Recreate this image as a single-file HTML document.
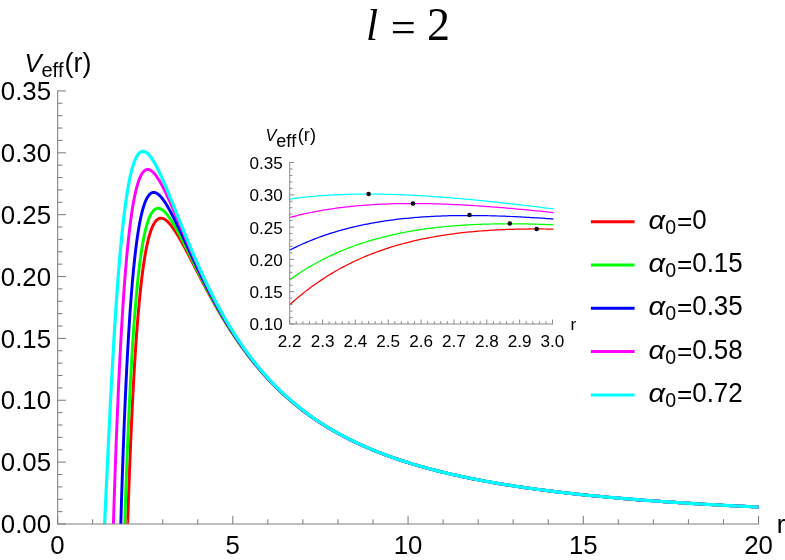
<!DOCTYPE html>
<html><head><meta charset="utf-8"><title>l = 2</title>
<style>html,body{margin:0;padding:0;background:#fff}body{width:785px;height:560px;overflow:hidden;font-family:"Liberation Sans",sans-serif}svg{display:block;will-change:transform}text{font-kerning:none;font-variant-ligatures:none}</style></head>
<body>
<svg width="785" height="560" viewBox="0 0 785 560">
<rect width="785" height="560" fill="#fff"/>
<defs><clipPath id="cm"><rect x="57.55" y="80" width="704.0" height="444.0"/></clipPath><clipPath id="ci"><rect x="289.7" y="150" width="264.8" height="174.0"/></clipPath></defs>
<g fill="none" stroke-linejoin="round" clip-path="url(#cm)">
<path d="M127.36,533.16 L127.53,527.64 L127.71,522.20 L127.88,516.84 L128.06,511.57 L128.24,506.38 L128.41,501.28 L128.59,496.25 L128.76,491.30 L128.94,486.43 L129.11,481.63 L129.29,476.91 L129.46,472.27 L129.64,467.69 L129.82,463.19 L129.99,458.76 L130.17,454.40 L130.34,450.10 L130.52,445.88 L130.69,441.72 L130.87,437.62 L131.05,433.59 L131.22,429.63 L131.40,425.72 L131.57,421.88 L131.75,418.10 L131.92,414.37 L132.10,410.71 L132.27,407.10 L132.45,403.55 L132.63,400.06 L132.80,396.62 L132.98,393.24 L133.15,389.91 L133.33,386.63 L133.50,383.41 L133.68,380.23 L133.86,377.11 L134.03,374.03 L134.21,371.01 L134.38,368.03 L134.56,365.11 L134.73,362.22 L134.91,359.39 L135.08,356.60 L135.26,353.85 L135.44,351.15 L135.61,348.50 L135.79,345.88 L135.96,343.31 L136.14,340.78 L136.31,338.29 L136.49,335.84 L136.66,333.43 L136.84,331.07 L137.02,328.73 L137.19,326.44 L137.37,324.19 L137.54,321.97 L137.72,319.79 L137.89,317.64 L138.07,315.53 L138.25,313.46 L138.42,311.42 L138.60,309.41 L138.77,307.44 L138.95,305.50 L139.12,303.60 L139.30,301.72 L139.47,299.88 L139.65,298.07 L139.83,296.29 L140.00,294.54 L140.18,292.81 L140.35,291.12 L140.53,289.46 L140.70,287.83 L140.88,286.22 L141.06,284.64 L141.23,283.09 L141.41,281.57 L141.58,280.07 L141.76,278.60 L141.93,277.16 L142.11,275.74 L142.28,274.35 L142.46,272.98 L142.64,271.64 L142.81,270.32 L142.99,269.02 L143.16,267.75 L143.34,266.50 L143.51,265.27 L143.69,264.07 L143.87,262.89 L144.04,261.73 L144.22,260.59 L144.39,259.47 L144.57,258.37 L144.74,257.30 L144.92,256.24 L145.09,255.21 L145.27,254.19 L145.45,253.20 L145.62,252.22 L145.80,251.27 L145.97,250.33 L146.15,249.41 L146.32,248.51 L146.50,247.62 L146.68,246.76 L146.85,245.91 L147.03,245.08 L147.20,244.26 L147.38,243.47 L147.55,242.69 L147.73,241.92 L147.90,241.17 L148.08,240.44 L148.26,239.72 L148.43,239.02 L148.61,238.34 L148.78,237.67 L148.96,237.01 L149.13,236.37 L149.31,235.74 L149.48,235.13 L149.66,234.53 L149.84,233.95 L150.01,233.37 L150.19,232.82 L150.36,232.27 L150.54,231.74 L150.71,231.22 L150.89,230.72 L151.07,230.22 L151.24,229.74 L151.42,229.27 L151.59,228.82 L151.77,228.37 L151.94,227.94 L152.12,227.52 L152.29,227.11 L152.47,226.71 L152.65,226.32 L152.82,225.95 L153.00,225.58 L153.17,225.22 L153.35,224.88 L153.52,224.55 L153.70,224.22 L153.88,223.91 L154.05,223.60 L154.23,223.31 L154.40,223.02 L154.58,222.75 L154.75,222.48 L154.93,222.23 L155.10,221.98 L155.28,221.74 L155.46,221.51 L155.63,221.29 L155.81,221.08 L155.98,220.88 L156.16,220.68 L156.33,220.50 L156.51,220.32 L156.69,220.15 L156.86,219.99 L157.04,219.83 L157.21,219.68 L157.39,219.54 L157.56,219.41 L157.74,219.29 L157.91,219.17 L158.09,219.06 L158.27,218.96 L158.44,218.87 L158.62,218.78 L158.79,218.70 L158.97,218.62 L159.14,218.55 L159.32,218.49 L159.50,218.44 L159.67,218.39 L159.85,218.35 L160.02,218.31 L160.20,218.28 L160.37,218.26 L160.55,218.24 L160.72,218.23 L160.90,218.22 L161.08,218.22 L161.25,218.22 L161.43,218.23 L161.60,218.25 L161.78,218.27 L161.95,218.30 L162.13,218.33 L162.30,218.37 L162.48,218.41 L162.66,218.46 L162.83,218.51 L163.01,218.57 L163.18,218.63 L163.36,218.69 L163.53,218.77 L163.71,218.84 L163.89,218.92 L164.06,219.01 L164.24,219.10 L164.41,219.19 L164.59,219.29 L164.76,219.39 L164.94,219.50 L165.11,219.61 L165.29,219.72 L165.47,219.84 L165.64,219.97 L165.82,220.09 L165.99,220.22 L166.17,220.36 L166.34,220.49 L166.52,220.64 L166.70,220.78 L166.87,220.93 L167.05,221.08 L167.22,221.24 L167.40,221.40 L167.57,221.56 L167.75,221.73 L167.92,221.89 L168.10,222.07 L168.28,222.24 L168.45,222.42 L168.63,222.60 L168.80,222.79 L168.98,222.98 L169.15,223.17 L169.33,223.36 L169.51,223.56 L169.68,223.76 L169.86,223.96 L170.03,224.16 L170.21,224.37 L170.38,224.58 L170.56,224.79 L170.73,225.01 L170.91,225.22 L171.09,225.44 L171.26,225.67 L171.44,225.89 L171.61,226.12 L171.79,226.35 L171.96,226.58 L172.14,226.82 L172.31,227.05 L172.49,227.29 L172.67,227.53 L172.84,227.77 L173.02,228.02 L173.19,228.27 L173.37,228.52 L173.54,228.77 L173.72,229.02 L173.90,229.28 L174.07,229.53 L174.25,229.79 L174.42,230.05 L174.60,230.31 L174.77,230.58 L174.95,230.84 L175.12,231.11 L175.30,231.38 L175.48,231.65 L175.65,231.93 L175.83,232.20 L176.00,232.48 L176.18,232.75 L176.35,233.03 L176.53,233.31 L176.71,233.59 L176.88,233.88 L177.06,234.16 L177.23,234.45 L177.41,234.74 L177.58,235.02 L177.76,235.31 L177.93,235.61 L178.11,235.90 L178.29,236.19 L178.46,236.49 L178.64,236.78 L178.81,237.08 L178.99,237.38 L179.16,237.68 L179.34,237.98 L179.52,238.28 L179.69,238.59 L179.87,238.89 L180.04,239.20 L180.22,239.50 L180.39,239.81 L180.57,240.12 L180.74,240.43 L180.92,240.74 L181.10,241.05 L181.27,241.36 L181.45,241.68 L181.62,241.99 L181.80,242.30 L181.97,242.62 L182.15,242.94 L182.33,243.25 L182.50,243.57 L182.68,243.89 L182.85,244.21 L183.03,244.53 L183.20,244.85 L183.38,245.17 L183.55,245.49 L183.73,245.82 L184.70,247.61 L185.67,249.42 L186.64,251.25 L187.61,253.09 L188.58,254.94 L189.55,256.80 L190.52,258.66 L191.49,260.54 L192.46,262.41 L193.43,264.29 L194.40,266.17 L195.37,268.05 L196.34,269.93 L197.31,271.80 L198.28,273.67 L199.25,275.54 L200.22,277.41 L201.19,279.26 L202.16,281.11 L203.13,282.96 L204.10,284.79 L205.07,286.62 L206.04,288.44 L207.01,290.25 L207.98,292.05 L208.95,293.83 L209.92,295.61 L210.89,297.38 L211.86,299.14 L212.83,300.88 L213.80,302.61 L214.77,304.33 L215.74,306.04 L216.71,307.73 L217.68,309.42 L218.65,311.08 L219.62,312.74 L220.59,314.38 L221.56,316.02 L222.53,317.63 L223.50,319.24 L224.47,320.83 L225.44,322.40 L226.41,323.97 L227.38,325.52 L228.35,327.05 L229.32,328.58 L230.29,330.09 L231.26,331.58 L232.23,333.07 L233.20,334.53 L234.17,335.99 L235.14,337.43 L236.11,338.86 L237.08,340.28 L238.05,341.68 L239.02,343.07 L239.99,344.45 L240.96,345.82 L241.93,347.17 L242.90,348.51 L243.87,349.83 L244.84,351.15 L245.81,352.45 L246.78,353.74 L247.75,355.01 L248.72,356.28 L249.69,357.53 L250.66,358.77 L251.63,360.00 L252.60,361.21 L253.57,362.42 L254.54,363.61 L255.51,364.79 L256.48,365.96 L257.45,367.12 L258.42,368.27 L259.39,369.41 L260.36,370.53 L261.32,371.65 L262.29,372.75 L263.26,373.85 L264.23,374.93 L265.20,376.00 L266.17,377.06 L267.14,378.11 L268.11,379.16 L269.08,380.19 L270.05,381.21 L271.02,382.22 L271.99,383.22 L272.96,384.22 L273.93,385.20 L274.90,386.17 L275.87,387.14 L276.84,388.09 L277.81,389.04 L278.78,389.97 L279.75,390.90 L280.72,391.82 L281.69,392.73 L282.66,393.63 L283.63,394.52 L284.60,395.41 L285.57,396.28 L286.54,397.15 L287.51,398.01 L288.48,398.86 L289.45,399.71 L290.42,400.54 L291.39,401.37 L292.36,402.19 L293.33,403.00 L294.30,403.81 L295.27,404.60 L296.24,405.39 L297.21,406.17 L298.18,406.95 L299.15,407.72 L300.12,408.48 L301.09,409.23 L302.06,409.98 L303.03,410.72 L304.00,411.45 L304.97,412.18 L305.94,412.90 L306.91,413.61 L307.88,414.32 L308.85,415.02 L309.82,415.71 L310.79,416.40 L311.76,417.08 L312.73,417.76 L313.70,418.43 L314.67,419.09 L315.64,419.75 L316.61,420.40 L317.58,421.05 L318.55,421.69 L319.52,422.32 L320.49,422.95 L321.46,423.57 L322.43,424.19 L323.40,424.80 L324.37,425.41 L325.34,426.01 L326.31,426.61 L327.28,427.20 L328.25,427.78 L329.22,428.36 L330.19,428.94 L331.16,429.51 L332.13,430.08 L333.10,430.64 L334.07,431.19 L335.04,431.74 L336.01,432.29 L336.98,432.83 L337.95,433.37 L340.98,435.02 L344.00,436.62 L347.03,438.18 L350.05,439.71 L353.08,441.19 L356.11,442.64 L359.13,444.04 L362.16,445.42 L365.18,446.76 L368.21,448.07 L371.23,449.34 L374.26,450.58 L377.29,451.80 L380.31,452.98 L383.34,454.14 L386.36,455.27 L389.39,456.37 L392.42,457.45 L395.44,458.50 L398.47,459.52 L401.49,460.53 L404.52,461.51 L407.55,462.47 L410.57,463.40 L413.60,464.32 L416.62,465.22 L419.65,466.09 L422.68,466.95 L425.70,467.79 L428.73,468.61 L431.75,469.41 L434.78,470.20 L437.80,470.97 L440.83,471.72 L443.86,472.46 L446.88,473.18 L449.91,473.89 L452.93,474.58 L455.96,475.26 L458.99,475.93 L462.01,476.58 L465.04,477.22 L468.06,477.84 L471.09,478.46 L474.12,479.06 L477.14,479.65 L480.17,480.23 L483.19,480.79 L486.22,481.35 L489.24,481.90 L492.27,482.43 L495.30,482.96 L498.32,483.47 L501.35,483.98 L504.37,484.48 L507.40,484.96 L510.43,485.44 L513.45,485.91 L516.48,486.37 L519.50,486.83 L522.53,487.27 L525.56,487.71 L528.58,488.14 L531.61,488.56 L534.63,488.98 L537.66,489.39 L540.69,489.79 L543.71,490.18 L546.74,490.57 L549.76,490.95 L552.79,491.32 L555.81,491.69 L558.84,492.05 L561.87,492.41 L564.89,492.76 L567.92,493.10 L570.94,493.44 L573.97,493.77 L577.00,494.10 L580.02,494.42 L583.05,494.74 L586.07,495.05 L589.10,495.36 L592.13,495.66 L595.15,495.96 L598.18,496.25 L601.20,496.54 L604.23,496.83 L607.26,497.11 L610.28,497.38 L613.31,497.65 L616.33,497.92 L619.36,498.18 L622.38,498.44 L625.41,498.70 L628.44,498.95 L631.46,499.20 L634.49,499.44 L637.51,499.68 L640.54,499.92 L643.57,500.15 L646.59,500.38 L649.62,500.61 L652.64,500.83 L655.67,501.05 L658.70,501.27 L661.72,501.48 L664.75,501.70 L667.77,501.90 L670.80,502.11 L673.82,502.31 L676.85,502.51 L679.88,502.71 L682.90,502.90 L685.93,503.10 L688.95,503.29 L691.98,503.47 L695.01,503.66 L698.03,503.84 L701.06,504.02 L704.08,504.19 L707.11,504.37 L710.14,504.54 L713.16,504.71 L716.19,504.88 L719.21,505.04 L722.24,505.21 L725.27,505.37 L728.29,505.53 L731.32,505.69 L734.34,505.84 L737.37,506.00 L740.39,506.15 L743.42,506.30 L746.45,506.44 L749.47,506.59 L752.50,506.73 L755.52,506.88 L758.55,507.02" stroke="#ff0000" stroke-width="2.95"/>
<path d="M124.55,530.96 L124.72,525.30 L124.90,519.73 L125.07,514.25 L125.25,508.85 L125.43,503.54 L125.60,498.31 L125.78,493.16 L125.95,488.09 L126.13,483.10 L126.30,478.19 L126.48,473.35 L126.65,468.59 L126.83,463.91 L127.01,459.30 L127.18,454.76 L127.36,450.29 L127.53,445.89 L127.71,441.56 L127.88,437.30 L128.06,433.10 L128.24,428.97 L128.41,424.91 L128.59,420.91 L128.76,416.97 L128.94,413.10 L129.11,409.28 L129.29,405.53 L129.46,401.83 L129.64,398.19 L129.82,394.61 L129.99,391.09 L130.17,387.62 L130.34,384.21 L130.52,380.85 L130.69,377.54 L130.87,374.29 L131.05,371.09 L131.22,367.94 L131.40,364.84 L131.57,361.79 L131.75,358.79 L131.92,355.83 L132.10,352.93 L132.27,350.07 L132.45,347.25 L132.63,344.48 L132.80,341.76 L132.98,339.08 L133.15,336.44 L133.33,333.85 L133.50,331.30 L133.68,328.79 L133.86,326.32 L134.03,323.89 L134.21,321.50 L134.38,319.15 L134.56,316.83 L134.73,314.56 L134.91,312.32 L135.08,310.12 L135.26,307.96 L135.44,305.83 L135.61,303.74 L135.79,301.68 L135.96,299.66 L136.14,297.67 L136.31,295.71 L136.49,293.79 L136.66,291.90 L136.84,290.04 L137.02,288.22 L137.19,286.42 L137.37,284.65 L137.54,282.92 L137.72,281.21 L137.89,279.54 L138.07,277.89 L138.25,276.27 L138.42,274.68 L138.60,273.12 L138.77,271.59 L138.95,270.08 L139.12,268.60 L139.30,267.14 L139.47,265.71 L139.65,264.31 L139.83,262.93 L140.00,261.58 L140.18,260.25 L140.35,258.94 L140.53,257.66 L140.70,256.40 L140.88,255.17 L141.06,253.95 L141.23,252.76 L141.41,251.60 L141.58,250.45 L141.76,249.33 L141.93,248.22 L142.11,247.14 L142.28,246.08 L142.46,245.04 L142.64,244.02 L142.81,243.02 L142.99,242.04 L143.16,241.08 L143.34,240.13 L143.51,239.21 L143.69,238.30 L143.87,237.42 L144.04,236.55 L144.22,235.69 L144.39,234.86 L144.57,234.04 L144.74,233.24 L144.92,232.46 L145.09,231.69 L145.27,230.94 L145.45,230.21 L145.62,229.49 L145.80,228.79 L145.97,228.10 L146.15,227.43 L146.32,226.77 L146.50,226.13 L146.68,225.50 L146.85,224.89 L147.03,224.29 L147.20,223.71 L147.38,223.14 L147.55,222.58 L147.73,222.04 L147.90,221.51 L148.08,220.99 L148.26,220.49 L148.43,220.00 L148.61,219.52 L148.78,219.05 L148.96,218.60 L149.13,218.15 L149.31,217.72 L149.48,217.31 L149.66,216.90 L149.84,216.50 L150.01,216.12 L150.19,215.75 L150.36,215.39 L150.54,215.03 L150.71,214.69 L150.89,214.36 L151.07,214.04 L151.24,213.73 L151.42,213.44 L151.59,213.15 L151.77,212.87 L151.94,212.60 L152.12,212.34 L152.29,212.09 L152.47,211.85 L152.65,211.61 L152.82,211.39 L153.00,211.18 L153.17,210.97 L153.35,210.77 L153.52,210.59 L153.70,210.41 L153.88,210.24 L154.05,210.07 L154.23,209.92 L154.40,209.77 L154.58,209.63 L154.75,209.50 L154.93,209.38 L155.10,209.26 L155.28,209.15 L155.46,209.05 L155.63,208.96 L155.81,208.87 L155.98,208.79 L156.16,208.72 L156.33,208.65 L156.51,208.59 L156.69,208.54 L156.86,208.50 L157.04,208.46 L157.21,208.42 L157.39,208.40 L157.56,208.38 L157.74,208.36 L157.91,208.35 L158.09,208.35 L158.27,208.36 L158.44,208.37 L158.62,208.38 L158.79,208.40 L158.97,208.43 L159.14,208.46 L159.32,208.50 L159.50,208.54 L159.67,208.59 L159.85,208.64 L160.02,208.70 L160.20,208.76 L160.37,208.83 L160.55,208.91 L160.72,208.99 L160.90,209.07 L161.08,209.16 L161.25,209.25 L161.43,209.34 L161.60,209.45 L161.78,209.55 L161.95,209.66 L162.13,209.78 L162.30,209.90 L162.48,210.02 L162.66,210.15 L162.83,210.28 L163.01,210.41 L163.18,210.55 L163.36,210.69 L163.53,210.84 L163.71,210.99 L163.89,211.15 L164.06,211.30 L164.24,211.47 L164.41,211.63 L164.59,211.80 L164.76,211.97 L164.94,212.15 L165.11,212.33 L165.29,212.51 L165.47,212.70 L165.64,212.88 L165.82,213.08 L165.99,213.27 L166.17,213.47 L166.34,213.67 L166.52,213.88 L166.70,214.08 L166.87,214.29 L167.05,214.51 L167.22,214.72 L167.40,214.94 L167.57,215.16 L167.75,215.39 L167.92,215.61 L168.10,215.84 L168.28,216.07 L168.45,216.31 L168.63,216.54 L168.80,216.78 L168.98,217.03 L169.15,217.27 L169.33,217.52 L169.51,217.76 L169.68,218.02 L169.86,218.27 L170.03,218.52 L170.21,218.78 L170.38,219.04 L170.56,219.30 L170.73,219.57 L170.91,219.83 L171.09,220.10 L171.26,220.37 L171.44,220.64 L171.61,220.92 L171.79,221.19 L171.96,221.47 L172.14,221.75 L172.31,222.03 L172.49,222.31 L172.67,222.59 L172.84,222.88 L173.02,223.17 L173.19,223.46 L173.37,223.75 L173.54,224.04 L173.72,224.33 L173.90,224.63 L174.07,224.93 L174.25,225.22 L174.42,225.52 L174.60,225.83 L174.77,226.13 L174.95,226.43 L175.12,226.74 L175.30,227.04 L175.48,227.35 L175.65,227.66 L175.83,227.97 L176.00,228.28 L176.18,228.60 L176.35,228.91 L176.53,229.23 L176.71,229.54 L176.88,229.86 L177.06,230.18 L177.23,230.50 L177.41,230.82 L177.58,231.14 L177.76,231.46 L177.93,231.79 L178.11,232.11 L178.29,232.44 L178.46,232.76 L178.64,233.09 L178.81,233.42 L178.99,233.75 L179.16,234.08 L179.34,234.41 L179.52,234.74 L179.69,235.07 L179.87,235.40 L180.04,235.74 L180.22,236.07 L180.39,236.41 L180.57,236.74 L180.74,237.08 L180.92,237.42 L181.10,237.76 L181.27,238.10 L181.45,238.43 L181.62,238.77 L181.80,239.12 L181.97,239.46 L182.15,239.80 L182.33,240.14 L182.50,240.48 L182.68,240.83 L182.85,241.17 L183.03,241.52 L183.20,241.86 L183.38,242.21 L183.55,242.55 L183.73,242.90 L184.70,244.82 L185.67,246.75 L186.64,248.69 L187.61,250.64 L188.58,252.59 L189.55,254.54 L190.52,256.50 L191.49,258.46 L192.46,260.42 L193.43,262.38 L194.40,264.34 L195.37,266.29 L196.34,268.23 L197.31,270.18 L198.28,272.11 L199.25,274.04 L200.22,275.96 L201.19,277.87 L202.16,279.78 L203.13,281.67 L204.10,283.55 L205.07,285.43 L206.04,287.29 L207.01,289.14 L207.98,290.98 L208.95,292.81 L209.92,294.62 L210.89,296.42 L211.86,298.21 L212.83,299.99 L213.80,301.75 L214.77,303.50 L215.74,305.24 L216.71,306.96 L217.68,308.67 L218.65,310.36 L219.62,312.04 L220.59,313.71 L221.56,315.36 L222.53,317.00 L223.50,318.63 L224.47,320.24 L225.44,321.83 L226.41,323.42 L227.38,324.98 L228.35,326.54 L229.32,328.08 L230.29,329.60 L231.26,331.11 L232.23,332.61 L233.20,334.09 L234.17,335.56 L235.14,337.02 L236.11,338.46 L237.08,339.89 L238.05,341.31 L239.02,342.71 L239.99,344.10 L240.96,345.47 L241.93,346.83 L242.90,348.18 L243.87,349.52 L244.84,350.84 L245.81,352.15 L246.78,353.45 L247.75,354.73 L248.72,356.01 L249.69,357.27 L250.66,358.51 L251.63,359.75 L252.60,360.97 L253.57,362.18 L254.54,363.38 L255.51,364.57 L256.48,365.75 L257.45,366.91 L258.42,368.07 L259.39,369.21 L260.36,370.34 L261.32,371.46 L262.29,372.57 L263.26,373.67 L264.23,374.75 L265.20,375.83 L266.17,376.90 L267.14,377.95 L268.11,379.00 L269.08,380.03 L270.05,381.06 L271.02,382.08 L271.99,383.08 L272.96,384.08 L273.93,385.06 L274.90,386.04 L275.87,387.01 L276.84,387.97 L277.81,388.91 L278.78,389.85 L279.75,390.78 L280.72,391.71 L281.69,392.62 L282.66,393.52 L283.63,394.42 L284.60,395.31 L285.57,396.18 L286.54,397.05 L287.51,397.92 L288.48,398.77 L289.45,399.61 L290.42,400.45 L291.39,401.28 L292.36,402.10 L293.33,402.92 L294.30,403.72 L295.27,404.52 L296.24,405.32 L297.21,406.10 L298.18,406.88 L299.15,407.65 L300.12,408.41 L301.09,409.16 L302.06,409.91 L303.03,410.65 L304.00,411.39 L304.97,412.12 L305.94,412.84 L306.91,413.55 L307.88,414.26 L308.85,414.96 L309.82,415.66 L310.79,416.35 L311.76,417.03 L312.73,417.71 L313.70,418.38 L314.67,419.04 L315.64,419.70 L316.61,420.35 L317.58,421.00 L318.55,421.64 L319.52,422.27 L320.49,422.90 L321.46,423.53 L322.43,424.15 L323.40,424.76 L324.37,425.37 L325.34,425.97 L326.31,426.57 L327.28,427.16 L328.25,427.74 L329.22,428.33 L330.19,428.90 L331.16,429.47 L332.13,430.04 L333.10,430.60 L334.07,431.16 L335.04,431.71 L336.01,432.26 L336.98,432.80 L337.95,433.34 L340.98,434.99 L344.00,436.59 L347.03,438.16 L350.05,439.68 L353.08,441.17 L356.11,442.61 L359.13,444.02 L362.16,445.40 L365.18,446.74 L368.21,448.05 L371.23,449.32 L374.26,450.57 L377.29,451.78 L380.31,452.97 L383.34,454.12 L386.36,455.25 L389.39,456.36 L392.42,457.43 L395.44,458.49 L398.47,459.51 L401.49,460.52 L404.52,461.50 L407.55,462.46 L410.57,463.40 L413.60,464.31 L416.62,465.21 L419.65,466.09 L422.68,466.94 L425.70,467.78 L428.73,468.60 L431.75,469.41 L434.78,470.19 L437.80,470.96 L440.83,471.72 L443.86,472.45 L446.88,473.18 L449.91,473.88 L452.93,474.58 L455.96,475.26 L458.99,475.92 L462.01,476.57 L465.04,477.21 L468.06,477.84 L471.09,478.45 L474.12,479.05 L477.14,479.64 L480.17,480.22 L483.19,480.79 L486.22,481.35 L489.24,481.89 L492.27,482.43 L495.30,482.95 L498.32,483.47 L501.35,483.98 L504.37,484.47 L507.40,484.96 L510.43,485.44 L513.45,485.91 L516.48,486.37 L519.50,486.83 L522.53,487.27 L525.56,487.71 L528.58,488.14 L531.61,488.56 L534.63,488.98 L537.66,489.38 L540.69,489.79 L543.71,490.18 L546.74,490.57 L549.76,490.95 L552.79,491.32 L555.81,491.69 L558.84,492.05 L561.87,492.41 L564.89,492.76 L567.92,493.10 L570.94,493.44 L573.97,493.77 L577.00,494.10 L580.02,494.42 L583.05,494.74 L586.07,495.05 L589.10,495.36 L592.13,495.66 L595.15,495.96 L598.18,496.25 L601.20,496.54 L604.23,496.82 L607.26,497.10 L610.28,497.38 L613.31,497.65 L616.33,497.92 L619.36,498.18 L622.38,498.44 L625.41,498.70 L628.44,498.95 L631.46,499.20 L634.49,499.44 L637.51,499.68 L640.54,499.92 L643.57,500.15 L646.59,500.38 L649.62,500.61 L652.64,500.83 L655.67,501.05 L658.70,501.27 L661.72,501.48 L664.75,501.70 L667.77,501.90 L670.80,502.11 L673.82,502.31 L676.85,502.51 L679.88,502.71 L682.90,502.90 L685.93,503.10 L688.95,503.29 L691.98,503.47 L695.01,503.66 L698.03,503.84 L701.06,504.02 L704.08,504.19 L707.11,504.37 L710.14,504.54 L713.16,504.71 L716.19,504.88 L719.21,505.04 L722.24,505.21 L725.27,505.37 L728.29,505.53 L731.32,505.69 L734.34,505.84 L737.37,505.99 L740.39,506.15 L743.42,506.30 L746.45,506.44 L749.47,506.59 L752.50,506.73 L755.52,506.88 L758.55,507.02" stroke="#00ff00" stroke-width="2.95"/>
<path d="M120.51,534.43 L120.68,528.33 L120.86,522.33 L121.04,516.43 L121.21,510.62 L121.39,504.91 L121.56,499.28 L121.74,493.75 L121.91,488.30 L122.09,482.95 L122.26,477.67 L122.44,472.49 L122.62,467.38 L122.79,462.36 L122.97,457.42 L123.14,452.56 L123.32,447.78 L123.49,443.07 L123.67,438.44 L123.84,433.88 L124.02,429.39 L124.20,424.98 L124.37,420.64 L124.55,416.37 L124.72,412.16 L124.90,408.03 L125.07,403.96 L125.25,399.96 L125.43,396.02 L125.60,392.14 L125.78,388.33 L125.95,384.57 L126.13,380.88 L126.30,377.25 L126.48,373.68 L126.65,370.16 L126.83,366.70 L127.01,363.30 L127.18,359.95 L127.36,356.66 L127.53,353.42 L127.71,350.23 L127.88,347.09 L128.06,344.01 L128.24,340.97 L128.41,337.99 L128.59,335.05 L128.76,332.16 L128.94,329.32 L129.11,326.53 L129.29,323.78 L129.46,321.08 L129.64,318.42 L129.82,315.80 L129.99,313.23 L130.17,310.71 L130.34,308.22 L130.52,305.77 L130.69,303.37 L130.87,301.00 L131.05,298.68 L131.22,296.39 L131.40,294.15 L131.57,291.94 L131.75,289.77 L131.92,287.63 L132.10,285.53 L132.27,283.47 L132.45,281.44 L132.63,279.45 L132.80,277.49 L132.98,275.56 L133.15,273.67 L133.33,271.81 L133.50,269.98 L133.68,268.19 L133.86,266.42 L134.03,264.69 L134.21,262.98 L134.38,261.31 L134.56,259.67 L134.73,258.05 L134.91,256.47 L135.08,254.91 L135.26,253.38 L135.44,251.88 L135.61,250.40 L135.79,248.96 L135.96,247.54 L136.14,246.14 L136.31,244.77 L136.49,243.43 L136.66,242.11 L136.84,240.81 L137.02,239.54 L137.19,238.29 L137.37,237.07 L137.54,235.87 L137.72,234.69 L137.89,233.54 L138.07,232.40 L138.25,231.29 L138.42,230.20 L138.60,229.14 L138.77,228.09 L138.95,227.06 L139.12,226.06 L139.30,225.07 L139.47,224.11 L139.65,223.16 L139.83,222.24 L140.00,221.33 L140.18,220.44 L140.35,219.57 L140.53,218.72 L140.70,217.88 L140.88,217.07 L141.06,216.27 L141.23,215.49 L141.41,214.72 L141.58,213.98 L141.76,213.25 L141.93,212.53 L142.11,211.83 L142.28,211.15 L142.46,210.49 L142.64,209.84 L142.81,209.20 L142.99,208.58 L143.16,207.97 L143.34,207.38 L143.51,206.81 L143.69,206.24 L143.87,205.69 L144.04,205.16 L144.22,204.64 L144.39,204.13 L144.57,203.64 L144.74,203.16 L144.92,202.69 L145.09,202.23 L145.27,201.79 L145.45,201.36 L145.62,200.94 L145.80,200.54 L145.97,200.14 L146.15,199.76 L146.32,199.39 L146.50,199.03 L146.68,198.68 L146.85,198.34 L147.03,198.02 L147.20,197.70 L147.38,197.40 L147.55,197.10 L147.73,196.82 L147.90,196.55 L148.08,196.28 L148.26,196.03 L148.43,195.79 L148.61,195.55 L148.78,195.33 L148.96,195.11 L149.13,194.91 L149.31,194.71 L149.48,194.52 L149.66,194.35 L149.84,194.18 L150.01,194.02 L150.19,193.86 L150.36,193.72 L150.54,193.58 L150.71,193.46 L150.89,193.34 L151.07,193.22 L151.24,193.12 L151.42,193.02 L151.59,192.94 L151.77,192.86 L151.94,192.78 L152.12,192.72 L152.29,192.66 L152.47,192.61 L152.65,192.56 L152.82,192.52 L153.00,192.49 L153.17,192.47 L153.35,192.45 L153.52,192.44 L153.70,192.44 L153.88,192.44 L154.05,192.45 L154.23,192.46 L154.40,192.48 L154.58,192.51 L154.75,192.54 L154.93,192.58 L155.10,192.62 L155.28,192.67 L155.46,192.73 L155.63,192.79 L155.81,192.85 L155.98,192.93 L156.16,193.00 L156.33,193.09 L156.51,193.17 L156.69,193.27 L156.86,193.36 L157.04,193.47 L157.21,193.57 L157.39,193.69 L157.56,193.80 L157.74,193.92 L157.91,194.05 L158.09,194.18 L158.27,194.32 L158.44,194.45 L158.62,194.60 L158.79,194.75 L158.97,194.90 L159.14,195.06 L159.32,195.22 L159.50,195.38 L159.67,195.55 L159.85,195.72 L160.02,195.90 L160.20,196.08 L160.37,196.26 L160.55,196.45 L160.72,196.64 L160.90,196.83 L161.08,197.03 L161.25,197.23 L161.43,197.44 L161.60,197.65 L161.78,197.86 L161.95,198.08 L162.13,198.29 L162.30,198.51 L162.48,198.74 L162.66,198.97 L162.83,199.20 L163.01,199.43 L163.18,199.67 L163.36,199.91 L163.53,200.15 L163.71,200.39 L163.89,200.64 L164.06,200.89 L164.24,201.15 L164.41,201.40 L164.59,201.66 L164.76,201.92 L164.94,202.19 L165.11,202.45 L165.29,202.72 L165.47,202.99 L165.64,203.26 L165.82,203.54 L165.99,203.82 L166.17,204.10 L166.34,204.38 L166.52,204.66 L166.70,204.95 L166.87,205.24 L167.05,205.53 L167.22,205.82 L167.40,206.12 L167.57,206.41 L167.75,206.71 L167.92,207.01 L168.10,207.32 L168.28,207.62 L168.45,207.93 L168.63,208.23 L168.80,208.54 L168.98,208.85 L169.15,209.17 L169.33,209.48 L169.51,209.80 L169.68,210.12 L169.86,210.44 L170.03,210.76 L170.21,211.08 L170.38,211.40 L170.56,211.73 L170.73,212.05 L170.91,212.38 L171.09,212.71 L171.26,213.04 L171.44,213.38 L171.61,213.71 L171.79,214.04 L171.96,214.38 L172.14,214.72 L172.31,215.06 L172.49,215.40 L172.67,215.74 L172.84,216.08 L173.02,216.42 L173.19,216.77 L173.37,217.11 L173.54,217.46 L173.72,217.80 L173.90,218.15 L174.07,218.50 L174.25,218.85 L174.42,219.20 L174.60,219.56 L174.77,219.91 L174.95,220.26 L175.12,220.62 L175.30,220.97 L175.48,221.33 L175.65,221.69 L175.83,222.05 L176.00,222.40 L176.18,222.76 L176.35,223.12 L176.53,223.49 L176.71,223.85 L176.88,224.21 L177.06,224.57 L177.23,224.94 L177.41,225.30 L177.58,225.67 L177.76,226.03 L177.93,226.40 L178.11,226.76 L178.29,227.13 L178.46,227.50 L178.64,227.87 L178.81,228.24 L178.99,228.61 L179.16,228.98 L179.34,229.35 L179.52,229.72 L179.69,230.09 L179.87,230.46 L180.04,230.83 L180.22,231.21 L180.39,231.58 L180.57,231.95 L180.74,232.32 L180.92,232.70 L181.10,233.07 L181.27,233.45 L181.45,233.82 L181.62,234.20 L181.80,234.57 L181.97,234.95 L182.15,235.32 L182.33,235.70 L182.50,236.08 L182.68,236.45 L182.85,236.83 L183.03,237.21 L183.20,237.59 L183.38,237.96 L183.55,238.34 L183.73,238.72 L184.70,240.81 L185.67,242.90 L186.64,244.99 L187.61,247.09 L188.58,249.18 L189.55,251.27 L190.52,253.36 L191.49,255.44 L192.46,257.51 L193.43,259.58 L194.40,261.64 L195.37,263.70 L196.34,265.74 L197.31,267.77 L198.28,269.80 L199.25,271.81 L200.22,273.81 L201.19,275.80 L202.16,277.78 L203.13,279.74 L204.10,281.70 L205.07,283.63 L206.04,285.56 L207.01,287.47 L207.98,289.37 L208.95,291.25 L209.92,293.12 L210.89,294.97 L211.86,296.81 L212.83,298.63 L213.80,300.44 L214.77,302.23 L215.74,304.01 L216.71,305.77 L217.68,307.52 L218.65,309.25 L219.62,310.97 L220.59,312.67 L221.56,314.35 L222.53,316.02 L223.50,317.68 L224.47,319.32 L225.44,320.94 L226.41,322.55 L227.38,324.15 L228.35,325.73 L229.32,327.29 L230.29,328.84 L231.26,330.37 L232.23,331.89 L233.20,333.40 L234.17,334.89 L235.14,336.36 L236.11,337.83 L237.08,339.27 L238.05,340.71 L239.02,342.12 L239.99,343.53 L240.96,344.92 L241.93,346.30 L242.90,347.66 L243.87,349.01 L244.84,350.35 L245.81,351.67 L246.78,352.98 L247.75,354.28 L248.72,355.57 L249.69,356.84 L250.66,358.10 L251.63,359.34 L252.60,360.58 L253.57,361.80 L254.54,363.01 L255.51,364.21 L256.48,365.39 L257.45,366.57 L258.42,367.73 L259.39,368.88 L260.36,370.02 L261.32,371.15 L262.29,372.26 L263.26,373.37 L264.23,374.46 L265.20,375.55 L266.17,376.62 L267.14,377.69 L268.11,378.74 L269.08,379.78 L270.05,380.81 L271.02,381.83 L271.99,382.84 L272.96,383.85 L273.93,384.84 L274.90,385.82 L275.87,386.79 L276.84,387.76 L277.81,388.71 L278.78,389.65 L279.75,390.59 L280.72,391.51 L281.69,392.43 L282.66,393.34 L283.63,394.24 L284.60,395.13 L285.57,396.01 L286.54,396.89 L287.51,397.75 L288.48,398.61 L289.45,399.46 L290.42,400.30 L291.39,401.13 L292.36,401.96 L293.33,402.78 L294.30,403.59 L295.27,404.39 L296.24,405.18 L297.21,405.97 L298.18,406.75 L299.15,407.52 L300.12,408.29 L301.09,409.04 L302.06,409.80 L303.03,410.54 L304.00,411.28 L304.97,412.01 L305.94,412.73 L306.91,413.45 L307.88,414.16 L308.85,414.86 L309.82,415.56 L310.79,416.25 L311.76,416.93 L312.73,417.61 L313.70,418.28 L314.67,418.95 L315.64,419.61 L316.61,420.27 L317.58,420.91 L318.55,421.56 L319.52,422.19 L320.49,422.82 L321.46,423.45 L322.43,424.07 L323.40,424.68 L324.37,425.29 L325.34,425.90 L326.31,426.50 L327.28,427.09 L328.25,427.68 L329.22,428.26 L330.19,428.84 L331.16,429.41 L332.13,429.98 L333.10,430.54 L334.07,431.10 L335.04,431.65 L336.01,432.20 L336.98,432.74 L337.95,433.28 L340.98,434.93 L344.00,436.54 L347.03,438.11 L350.05,439.64 L353.08,441.12 L356.11,442.57 L359.13,443.99 L362.16,445.36 L365.18,446.71 L368.21,448.02 L371.23,449.29 L374.26,450.54 L377.29,451.75 L380.31,452.94 L383.34,454.10 L386.36,455.23 L389.39,456.33 L392.42,457.41 L395.44,458.46 L398.47,459.49 L401.49,460.50 L404.52,461.48 L407.55,462.44 L410.57,463.38 L413.60,464.30 L416.62,465.19 L419.65,466.07 L422.68,466.93 L425.70,467.77 L428.73,468.59 L431.75,469.39 L434.78,470.18 L437.80,470.95 L440.83,471.71 L443.86,472.44 L446.88,473.17 L449.91,473.87 L452.93,474.57 L455.96,475.25 L458.99,475.91 L462.01,476.57 L465.04,477.20 L468.06,477.83 L471.09,478.44 L474.12,479.05 L477.14,479.64 L480.17,480.22 L483.19,480.78 L486.22,481.34 L489.24,481.89 L492.27,482.42 L495.30,482.95 L498.32,483.47 L501.35,483.97 L504.37,484.47 L507.40,484.96 L510.43,485.44 L513.45,485.91 L516.48,486.37 L519.50,486.82 L522.53,487.27 L525.56,487.71 L528.58,488.14 L531.61,488.56 L534.63,488.97 L537.66,489.38 L540.69,489.78 L543.71,490.18 L546.74,490.56 L549.76,490.94 L552.79,491.32 L555.81,491.69 L558.84,492.05 L561.87,492.40 L564.89,492.75 L567.92,493.10 L570.94,493.44 L573.97,493.77 L577.00,494.10 L580.02,494.42 L583.05,494.74 L586.07,495.05 L589.10,495.36 L592.13,495.66 L595.15,495.96 L598.18,496.25 L601.20,496.54 L604.23,496.82 L607.26,497.10 L610.28,497.38 L613.31,497.65 L616.33,497.92 L619.36,498.18 L622.38,498.44 L625.41,498.69 L628.44,498.95 L631.46,499.19 L634.49,499.44 L637.51,499.68 L640.54,499.92 L643.57,500.15 L646.59,500.38 L649.62,500.61 L652.64,500.83 L655.67,501.05 L658.70,501.27 L661.72,501.48 L664.75,501.69 L667.77,501.90 L670.80,502.11 L673.82,502.31 L676.85,502.51 L679.88,502.71 L682.90,502.90 L685.93,503.10 L688.95,503.28 L691.98,503.47 L695.01,503.66 L698.03,503.84 L701.06,504.02 L704.08,504.19 L707.11,504.37 L710.14,504.54 L713.16,504.71 L716.19,504.88 L719.21,505.04 L722.24,505.21 L725.27,505.37 L728.29,505.53 L731.32,505.69 L734.34,505.84 L737.37,505.99 L740.39,506.15 L743.42,506.30 L746.45,506.44 L749.47,506.59 L752.50,506.73 L755.52,506.88 L758.55,507.02" stroke="#0000ff" stroke-width="2.95"/>
<path d="M113.13,532.88 L113.31,527.15 L113.48,521.49 L113.66,515.91 L113.83,510.39 L114.01,504.95 L114.19,499.58 L114.36,494.28 L114.54,489.05 L114.71,483.88 L114.89,478.79 L115.06,473.76 L115.24,468.79 L115.42,463.89 L115.59,459.06 L115.77,454.28 L115.94,449.58 L116.12,444.93 L116.29,440.34 L116.47,435.82 L116.64,431.36 L116.82,426.95 L117.00,422.61 L117.17,418.32 L117.35,414.09 L117.52,409.92 L117.70,405.80 L117.87,401.74 L118.05,397.74 L118.23,393.78 L118.40,389.89 L118.58,386.04 L118.75,382.25 L118.93,378.51 L119.10,374.83 L119.28,371.19 L119.45,367.60 L119.63,364.07 L119.81,360.58 L119.98,357.14 L120.16,353.75 L120.33,350.41 L120.51,347.11 L120.68,343.86 L120.86,340.66 L121.04,337.50 L121.21,334.39 L121.39,331.32 L121.56,328.30 L121.74,325.32 L121.91,322.38 L122.09,319.48 L122.26,316.63 L122.44,313.81 L122.62,311.04 L122.79,308.31 L122.97,305.62 L123.14,302.97 L123.32,300.36 L123.49,297.78 L123.67,295.25 L123.84,292.75 L124.02,290.29 L124.20,287.86 L124.37,285.48 L124.55,283.13 L124.72,280.81 L124.90,278.53 L125.07,276.28 L125.25,274.07 L125.43,271.89 L125.60,269.75 L125.78,267.64 L125.95,265.56 L126.13,263.52 L126.30,261.50 L126.48,259.52 L126.65,257.57 L126.83,255.65 L127.01,253.76 L127.18,251.90 L127.36,250.07 L127.53,248.27 L127.71,246.50 L127.88,244.76 L128.06,243.04 L128.24,241.36 L128.41,239.70 L128.59,238.07 L128.76,236.46 L128.94,234.89 L129.11,233.34 L129.29,231.81 L129.46,230.31 L129.64,228.84 L129.82,227.39 L129.99,225.97 L130.17,224.57 L130.34,223.19 L130.52,221.84 L130.69,220.52 L130.87,219.21 L131.05,217.93 L131.22,216.68 L131.40,215.44 L131.57,214.23 L131.75,213.04 L131.92,211.87 L132.10,210.72 L132.27,209.59 L132.45,208.49 L132.63,207.40 L132.80,206.34 L132.98,205.30 L133.15,204.27 L133.33,203.27 L133.50,202.28 L133.68,201.32 L133.86,200.37 L134.03,199.44 L134.21,198.53 L134.38,197.64 L134.56,196.77 L134.73,195.91 L134.91,195.08 L135.08,194.26 L135.26,193.45 L135.44,192.67 L135.61,191.90 L135.79,191.14 L135.96,190.41 L136.14,189.69 L136.31,188.98 L136.49,188.30 L136.66,187.62 L136.84,186.97 L137.02,186.32 L137.19,185.70 L137.37,185.08 L137.54,184.48 L137.72,183.90 L137.89,183.33 L138.07,182.78 L138.25,182.24 L138.42,181.71 L138.60,181.19 L138.77,180.69 L138.95,180.21 L139.12,179.73 L139.30,179.27 L139.47,178.82 L139.65,178.38 L139.83,177.96 L140.00,177.55 L140.18,177.15 L140.35,176.76 L140.53,176.39 L140.70,176.02 L140.88,175.67 L141.06,175.33 L141.23,175.00 L141.41,174.68 L141.58,174.37 L141.76,174.07 L141.93,173.79 L142.11,173.51 L142.28,173.24 L142.46,172.99 L142.64,172.74 L142.81,172.51 L142.99,172.28 L143.16,172.06 L143.34,171.86 L143.51,171.66 L143.69,171.47 L143.87,171.29 L144.04,171.12 L144.22,170.96 L144.39,170.81 L144.57,170.67 L144.74,170.53 L144.92,170.41 L145.09,170.29 L145.27,170.18 L145.45,170.08 L145.62,169.99 L145.80,169.90 L145.97,169.83 L146.15,169.76 L146.32,169.70 L146.50,169.64 L146.68,169.60 L146.85,169.56 L147.03,169.52 L147.20,169.50 L147.38,169.48 L147.55,169.47 L147.73,169.47 L147.90,169.47 L148.08,169.48 L148.26,169.50 L148.43,169.52 L148.61,169.55 L148.78,169.59 L148.96,169.63 L149.13,169.68 L149.31,169.73 L149.48,169.79 L149.66,169.86 L149.84,169.93 L150.01,170.01 L150.19,170.09 L150.36,170.18 L150.54,170.27 L150.71,170.37 L150.89,170.48 L151.07,170.59 L151.24,170.71 L151.42,170.83 L151.59,170.96 L151.77,171.09 L151.94,171.22 L152.12,171.36 L152.29,171.51 L152.47,171.66 L152.65,171.82 L152.82,171.98 L153.00,172.14 L153.17,172.31 L153.35,172.48 L153.52,172.66 L153.70,172.85 L153.88,173.03 L154.05,173.22 L154.23,173.42 L154.40,173.62 L154.58,173.82 L154.75,174.03 L154.93,174.24 L155.10,174.45 L155.28,174.67 L155.46,174.89 L155.63,175.12 L155.81,175.35 L155.98,175.58 L156.16,175.82 L156.33,176.06 L156.51,176.30 L156.69,176.55 L156.86,176.80 L157.04,177.05 L157.21,177.31 L157.39,177.57 L157.56,177.83 L157.74,178.09 L157.91,178.36 L158.09,178.64 L158.27,178.91 L158.44,179.19 L158.62,179.47 L158.79,179.75 L158.97,180.04 L159.14,180.33 L159.32,180.62 L159.50,180.91 L159.67,181.21 L159.85,181.51 L160.02,181.81 L160.20,182.11 L160.37,182.42 L160.55,182.73 L160.72,183.04 L160.90,183.35 L161.08,183.67 L161.25,183.99 L161.43,184.31 L161.60,184.63 L161.78,184.95 L161.95,185.28 L162.13,185.61 L162.30,185.94 L162.48,186.27 L162.66,186.61 L162.83,186.94 L163.01,187.28 L163.18,187.62 L163.36,187.97 L163.53,188.31 L163.71,188.65 L163.89,189.00 L164.06,189.35 L164.24,189.70 L164.41,190.05 L164.59,190.41 L164.76,190.76 L164.94,191.12 L165.11,191.48 L165.29,191.84 L165.47,192.20 L165.64,192.57 L165.82,192.93 L165.99,193.30 L166.17,193.66 L166.34,194.03 L166.52,194.40 L166.70,194.77 L166.87,195.14 L167.05,195.52 L167.22,195.89 L167.40,196.27 L167.57,196.65 L167.75,197.03 L167.92,197.40 L168.10,197.79 L168.28,198.17 L168.45,198.55 L168.63,198.93 L168.80,199.32 L168.98,199.70 L169.15,200.09 L169.33,200.48 L169.51,200.87 L169.68,201.26 L169.86,201.65 L170.03,202.04 L170.21,202.43 L170.38,202.82 L170.56,203.22 L170.73,203.61 L170.91,204.01 L171.09,204.40 L171.26,204.80 L171.44,205.19 L171.61,205.59 L171.79,205.99 L171.96,206.39 L172.14,206.79 L172.31,207.19 L172.49,207.59 L172.67,207.99 L172.84,208.40 L173.02,208.80 L173.19,209.20 L173.37,209.61 L173.54,210.01 L173.72,210.42 L173.90,210.82 L174.07,211.23 L174.25,211.63 L174.42,212.04 L174.60,212.45 L174.77,212.85 L174.95,213.26 L175.12,213.67 L175.30,214.08 L175.48,214.49 L175.65,214.90 L175.83,215.31 L176.00,215.72 L176.18,216.13 L176.35,216.54 L176.53,216.95 L176.71,217.36 L176.88,217.77 L177.06,218.18 L177.23,218.59 L177.41,219.01 L177.58,219.42 L177.76,219.83 L177.93,220.24 L178.11,220.65 L178.29,221.07 L178.46,221.48 L178.64,221.89 L178.81,222.31 L178.99,222.72 L179.16,223.13 L179.34,223.55 L179.52,223.96 L179.69,224.37 L179.87,224.79 L180.04,225.20 L180.22,225.61 L180.39,226.03 L180.57,226.44 L180.74,226.85 L180.92,227.27 L181.10,227.68 L181.27,228.10 L181.45,228.51 L181.62,228.92 L181.80,229.34 L181.97,229.75 L182.15,230.16 L182.33,230.58 L182.50,230.99 L182.68,231.40 L182.85,231.82 L183.03,232.23 L183.20,232.64 L183.38,233.05 L183.55,233.47 L183.73,233.88 L184.70,236.15 L185.67,238.42 L186.64,240.69 L187.61,242.94 L188.58,245.19 L189.55,247.42 L190.52,249.65 L191.49,251.87 L192.46,254.07 L193.43,256.26 L194.40,258.44 L195.37,260.61 L196.34,262.76 L197.31,264.90 L198.28,267.02 L199.25,269.13 L200.22,271.23 L201.19,273.30 L202.16,275.36 L203.13,277.41 L204.10,279.44 L205.07,281.45 L206.04,283.45 L207.01,285.43 L207.98,287.39 L208.95,289.34 L209.92,291.27 L210.89,293.18 L211.86,295.07 L212.83,296.95 L213.80,298.81 L214.77,300.65 L215.74,302.48 L216.71,304.29 L217.68,306.08 L218.65,307.86 L219.62,309.61 L220.59,311.36 L221.56,313.08 L222.53,314.79 L223.50,316.48 L224.47,318.15 L225.44,319.81 L226.41,321.45 L227.38,323.08 L228.35,324.69 L229.32,326.28 L230.29,327.86 L231.26,329.42 L232.23,330.97 L233.20,332.50 L234.17,334.01 L235.14,335.51 L236.11,337.00 L237.08,338.47 L238.05,339.92 L239.02,341.36 L239.99,342.79 L240.96,344.20 L241.93,345.59 L242.90,346.98 L243.87,348.34 L244.84,349.70 L245.81,351.04 L246.78,352.37 L247.75,353.68 L248.72,354.98 L249.69,356.27 L250.66,357.54 L251.63,358.80 L252.60,360.05 L253.57,361.28 L254.54,362.51 L255.51,363.72 L256.48,364.91 L257.45,366.10 L258.42,367.27 L259.39,368.43 L260.36,369.58 L261.32,370.72 L262.29,371.85 L263.26,372.97 L264.23,374.07 L265.20,375.16 L266.17,376.25 L267.14,377.32 L268.11,378.38 L269.08,379.43 L270.05,380.47 L271.02,381.50 L271.99,382.52 L272.96,383.53 L273.93,384.52 L274.90,385.51 L275.87,386.49 L276.84,387.46 L277.81,388.42 L278.78,389.37 L279.75,390.31 L280.72,391.25 L281.69,392.17 L282.66,393.08 L283.63,393.99 L284.60,394.89 L285.57,395.77 L286.54,396.65 L287.51,397.52 L288.48,398.38 L289.45,399.24 L290.42,400.08 L291.39,400.92 L292.36,401.75 L293.33,402.57 L294.30,403.39 L295.27,404.19 L296.24,404.99 L297.21,405.78 L298.18,406.57 L299.15,407.34 L300.12,408.11 L301.09,408.87 L302.06,409.63 L303.03,410.37 L304.00,411.11 L304.97,411.85 L305.94,412.57 L306.91,413.29 L307.88,414.01 L308.85,414.71 L309.82,415.41 L310.79,416.11 L311.76,416.80 L312.73,417.48 L313.70,418.15 L314.67,418.82 L315.64,419.48 L316.61,420.14 L317.58,420.79 L318.55,421.44 L319.52,422.07 L320.49,422.71 L321.46,423.34 L322.43,423.96 L323.40,424.57 L324.37,425.19 L325.34,425.79 L326.31,426.39 L327.28,426.99 L328.25,427.58 L329.22,428.16 L330.19,428.74 L331.16,429.31 L332.13,429.88 L333.10,430.45 L334.07,431.01 L335.04,431.56 L336.01,432.11 L336.98,432.66 L337.95,433.20 L340.98,434.85 L344.00,436.47 L347.03,438.04 L350.05,439.57 L353.08,441.06 L356.11,442.51 L359.13,443.93 L362.16,445.31 L365.18,446.65 L368.21,447.96 L371.23,449.24 L374.26,450.49 L377.29,451.71 L380.31,452.90 L383.34,454.06 L386.36,455.19 L389.39,456.30 L392.42,457.38 L395.44,458.43 L398.47,459.46 L401.49,460.47 L404.52,461.45 L407.55,462.41 L410.57,463.35 L413.60,464.27 L416.62,465.17 L419.65,466.05 L422.68,466.91 L425.70,467.75 L428.73,468.57 L431.75,469.37 L434.78,470.16 L437.80,470.93 L440.83,471.69 L443.86,472.43 L446.88,473.15 L449.91,473.86 L452.93,474.55 L455.96,475.23 L458.99,475.90 L462.01,476.55 L465.04,477.19 L468.06,477.82 L471.09,478.43 L474.12,479.04 L477.14,479.63 L480.17,480.21 L483.19,480.77 L486.22,481.33 L489.24,481.88 L492.27,482.41 L495.30,482.94 L498.32,483.46 L501.35,483.96 L504.37,484.46 L507.40,484.95 L510.43,485.43 L513.45,485.90 L516.48,486.36 L519.50,486.82 L522.53,487.26 L525.56,487.70 L528.58,488.13 L531.61,488.55 L534.63,488.97 L537.66,489.38 L540.69,489.78 L543.71,490.17 L546.74,490.56 L549.76,490.94 L552.79,491.31 L555.81,491.68 L558.84,492.04 L561.87,492.40 L564.89,492.75 L567.92,493.09 L570.94,493.43 L573.97,493.77 L577.00,494.09 L580.02,494.42 L583.05,494.73 L586.07,495.05 L589.10,495.35 L592.13,495.66 L595.15,495.95 L598.18,496.25 L601.20,496.54 L604.23,496.82 L607.26,497.10 L610.28,497.38 L613.31,497.65 L616.33,497.91 L619.36,498.18 L622.38,498.44 L625.41,498.69 L628.44,498.94 L631.46,499.19 L634.49,499.44 L637.51,499.68 L640.54,499.91 L643.57,500.15 L646.59,500.38 L649.62,500.61 L652.64,500.83 L655.67,501.05 L658.70,501.27 L661.72,501.48 L664.75,501.69 L667.77,501.90 L670.80,502.11 L673.82,502.31 L676.85,502.51 L679.88,502.71 L682.90,502.90 L685.93,503.09 L688.95,503.28 L691.98,503.47 L695.01,503.65 L698.03,503.84 L701.06,504.01 L704.08,504.19 L707.11,504.37 L710.14,504.54 L713.16,504.71 L716.19,504.88 L719.21,505.04 L722.24,505.21 L725.27,505.37 L728.29,505.53 L731.32,505.68 L734.34,505.84 L737.37,505.99 L740.39,506.14 L743.42,506.29 L746.45,506.44 L749.47,506.59 L752.50,506.73 L755.52,506.87 L758.55,507.02" stroke="#ff00ff" stroke-width="2.95"/>
<path d="M104.35,529.72 L104.53,525.99 L104.70,522.25 L104.88,518.51 L105.05,514.75 L105.23,511.00 L105.41,507.24 L105.58,503.48 L105.76,499.72 L105.93,495.96 L106.11,492.20 L106.28,488.44 L106.46,484.69 L106.63,480.95 L106.81,477.21 L106.99,473.48 L107.16,469.76 L107.34,466.05 L107.51,462.35 L107.69,458.66 L107.86,454.98 L108.04,451.32 L108.22,447.67 L108.39,444.03 L108.57,440.41 L108.74,436.81 L108.92,433.22 L109.09,429.65 L109.27,426.09 L109.44,422.56 L109.62,419.04 L109.80,415.55 L109.97,412.07 L110.15,408.62 L110.32,405.18 L110.50,401.77 L110.67,398.38 L110.85,395.01 L111.03,391.67 L111.20,388.34 L111.38,385.04 L111.55,381.77 L111.73,378.52 L111.90,375.29 L112.08,372.09 L112.25,368.91 L112.43,365.76 L112.61,362.63 L112.78,359.53 L112.96,356.45 L113.13,353.40 L113.31,350.38 L113.48,347.38 L113.66,344.41 L113.83,341.47 L114.01,338.55 L114.19,335.66 L114.36,332.79 L114.54,329.95 L114.71,327.14 L114.89,324.36 L115.06,321.60 L115.24,318.87 L115.42,316.17 L115.59,313.49 L115.77,310.84 L115.94,308.22 L116.12,305.63 L116.29,303.06 L116.47,300.52 L116.64,298.01 L116.82,295.52 L117.00,293.06 L117.17,290.63 L117.35,288.22 L117.52,285.84 L117.70,283.49 L117.87,281.17 L118.05,278.87 L118.23,276.60 L118.40,274.35 L118.58,272.13 L118.75,269.94 L118.93,267.77 L119.10,265.63 L119.28,263.51 L119.45,261.42 L119.63,259.36 L119.81,257.32 L119.98,255.31 L120.16,253.32 L120.33,251.35 L120.51,249.42 L120.68,247.50 L120.86,245.62 L121.04,243.75 L121.21,241.91 L121.39,240.10 L121.56,238.31 L121.74,236.54 L121.91,234.80 L122.09,233.08 L122.26,231.38 L122.44,229.71 L122.62,228.06 L122.79,226.43 L122.97,224.83 L123.14,223.25 L123.32,221.69 L123.49,220.15 L123.67,218.64 L123.84,217.15 L124.02,215.68 L124.20,214.23 L124.37,212.81 L124.55,211.40 L124.72,210.02 L124.90,208.65 L125.07,207.31 L125.25,205.99 L125.43,204.69 L125.60,203.41 L125.78,202.15 L125.95,200.91 L126.13,199.69 L126.30,198.49 L126.48,197.31 L126.65,196.15 L126.83,195.00 L127.01,193.88 L127.18,192.78 L127.36,191.69 L127.53,190.62 L127.71,189.57 L127.88,188.54 L128.06,187.53 L128.24,186.54 L128.41,185.56 L128.59,184.60 L128.76,183.66 L128.94,182.73 L129.11,181.82 L129.29,180.93 L129.46,180.05 L129.64,179.20 L129.82,178.35 L129.99,177.53 L130.17,176.72 L130.34,175.92 L130.52,175.15 L130.69,174.38 L130.87,173.64 L131.05,172.90 L131.22,172.19 L131.40,171.49 L131.57,170.80 L131.75,170.13 L131.92,169.47 L132.10,168.82 L132.27,168.19 L132.45,167.58 L132.63,166.98 L132.80,166.39 L132.98,165.82 L133.15,165.25 L133.33,164.71 L133.50,164.17 L133.68,163.65 L133.86,163.14 L134.03,162.65 L134.21,162.17 L134.38,161.70 L134.56,161.24 L134.73,160.79 L134.91,160.36 L135.08,159.94 L135.26,159.53 L135.44,159.13 L135.61,158.74 L135.79,158.37 L135.96,158.00 L136.14,157.65 L136.31,157.31 L136.49,156.98 L136.66,156.66 L136.84,156.35 L137.02,156.05 L137.19,155.76 L137.37,155.48 L137.54,155.22 L137.72,154.96 L137.89,154.71 L138.07,154.47 L138.25,154.24 L138.42,154.03 L138.60,153.82 L138.77,153.62 L138.95,153.43 L139.12,153.25 L139.30,153.08 L139.47,152.91 L139.65,152.76 L139.83,152.61 L140.00,152.48 L140.18,152.35 L140.35,152.23 L140.53,152.12 L140.70,152.02 L140.88,151.92 L141.06,151.83 L141.23,151.76 L141.41,151.69 L141.58,151.62 L141.76,151.57 L141.93,151.52 L142.11,151.48 L142.28,151.45 L142.46,151.42 L142.64,151.40 L142.81,151.39 L142.99,151.39 L143.16,151.39 L143.34,151.40 L143.51,151.42 L143.69,151.44 L143.87,151.47 L144.04,151.51 L144.22,151.55 L144.39,151.60 L144.57,151.65 L144.74,151.72 L144.92,151.78 L145.09,151.86 L145.27,151.94 L145.45,152.02 L145.62,152.12 L145.80,152.21 L145.97,152.32 L146.15,152.43 L146.32,152.54 L146.50,152.66 L146.68,152.78 L146.85,152.92 L147.03,153.05 L147.20,153.19 L147.38,153.34 L147.55,153.49 L147.73,153.65 L147.90,153.81 L148.08,153.97 L148.26,154.14 L148.43,154.32 L148.61,154.50 L148.78,154.68 L148.96,154.87 L149.13,155.07 L149.31,155.26 L149.48,155.47 L149.66,155.67 L149.84,155.88 L150.01,156.10 L150.19,156.32 L150.36,156.54 L150.54,156.77 L150.71,157.00 L150.89,157.23 L151.07,157.47 L151.24,157.72 L151.42,157.96 L151.59,158.21 L151.77,158.47 L151.94,158.72 L152.12,158.98 L152.29,159.25 L152.47,159.52 L152.65,159.79 L152.82,160.06 L153.00,160.34 L153.17,160.62 L153.35,160.90 L153.52,161.19 L153.70,161.48 L153.88,161.77 L154.05,162.07 L154.23,162.37 L154.40,162.67 L154.58,162.98 L154.75,163.28 L154.93,163.60 L155.10,163.91 L155.28,164.22 L155.46,164.54 L155.63,164.86 L155.81,165.19 L155.98,165.52 L156.16,165.84 L156.33,166.18 L156.51,166.51 L156.69,166.85 L156.86,167.18 L157.04,167.52 L157.21,167.87 L157.39,168.21 L157.56,168.56 L157.74,168.91 L157.91,169.26 L158.09,169.62 L158.27,169.97 L158.44,170.33 L158.62,170.69 L158.79,171.05 L158.97,171.42 L159.14,171.78 L159.32,172.15 L159.50,172.52 L159.67,172.89 L159.85,173.26 L160.02,173.64 L160.20,174.01 L160.37,174.39 L160.55,174.77 L160.72,175.15 L160.90,175.53 L161.08,175.92 L161.25,176.30 L161.43,176.69 L161.60,177.08 L161.78,177.47 L161.95,177.86 L162.13,178.26 L162.30,178.65 L162.48,179.05 L162.66,179.44 L162.83,179.84 L163.01,180.24 L163.18,180.64 L163.36,181.04 L163.53,181.45 L163.71,181.85 L163.89,182.26 L164.06,182.66 L164.24,183.07 L164.41,183.48 L164.59,183.89 L164.76,184.30 L164.94,184.71 L165.11,185.13 L165.29,185.54 L165.47,185.95 L165.64,186.37 L165.82,186.79 L165.99,187.20 L166.17,187.62 L166.34,188.04 L166.52,188.46 L166.70,188.88 L166.87,189.30 L167.05,189.73 L167.22,190.15 L167.40,190.57 L167.57,191.00 L167.75,191.42 L167.92,191.85 L168.10,192.27 L168.28,192.70 L168.45,193.13 L168.63,193.56 L168.80,193.98 L168.98,194.41 L169.15,194.84 L169.33,195.27 L169.51,195.70 L169.68,196.14 L169.86,196.57 L170.03,197.00 L170.21,197.43 L170.38,197.86 L170.56,198.30 L170.73,198.73 L170.91,199.17 L171.09,199.60 L171.26,200.04 L171.44,200.47 L171.61,200.91 L171.79,201.34 L171.96,201.78 L172.14,202.22 L172.31,202.65 L172.49,203.09 L172.67,203.53 L172.84,203.96 L173.02,204.40 L173.19,204.84 L173.37,205.28 L173.54,205.72 L173.72,206.16 L173.90,206.59 L174.07,207.03 L174.25,207.47 L174.42,207.91 L174.60,208.35 L174.77,208.79 L174.95,209.23 L175.12,209.67 L175.30,210.11 L175.48,210.55 L175.65,210.99 L175.83,211.43 L176.00,211.87 L176.18,212.31 L176.35,212.75 L176.53,213.19 L176.71,213.63 L176.88,214.07 L177.06,214.50 L177.23,214.94 L177.41,215.38 L177.58,215.82 L177.76,216.26 L177.93,216.70 L178.11,217.14 L178.29,217.58 L178.46,218.02 L178.64,218.46 L178.81,218.90 L178.99,219.34 L179.16,219.78 L179.34,220.21 L179.52,220.65 L179.69,221.09 L179.87,221.53 L180.04,221.97 L180.22,222.40 L180.39,222.84 L180.57,223.28 L180.74,223.71 L180.92,224.15 L181.10,224.59 L181.27,225.02 L181.45,225.46 L181.62,225.90 L181.80,226.33 L181.97,226.77 L182.15,227.20 L182.33,227.64 L182.50,228.07 L182.68,228.51 L182.85,228.94 L183.03,229.37 L183.20,229.81 L183.38,230.24 L183.55,230.67 L183.73,231.11 L184.70,233.49 L185.67,235.86 L186.64,238.22 L187.61,240.57 L188.58,242.91 L189.55,245.23 L190.52,247.54 L191.49,249.84 L192.46,252.12 L193.43,254.38 L194.40,256.63 L195.37,258.86 L196.34,261.07 L197.31,263.27 L198.28,265.45 L199.25,267.62 L200.22,269.76 L201.19,271.89 L202.16,274.00 L203.13,276.09 L204.10,278.17 L205.07,280.22 L206.04,282.26 L207.01,284.28 L207.98,286.28 L208.95,288.26 L209.92,290.23 L210.89,292.17 L211.86,294.10 L212.83,296.01 L213.80,297.90 L214.77,299.77 L215.74,301.62 L216.71,303.46 L217.68,305.28 L218.65,307.08 L219.62,308.86 L220.59,310.62 L221.56,312.37 L222.53,314.10 L223.50,315.81 L224.47,317.51 L225.44,319.18 L226.41,320.84 L227.38,322.49 L228.35,324.11 L229.32,325.72 L230.29,327.32 L231.26,328.90 L232.23,330.46 L233.20,332.00 L234.17,333.53 L235.14,335.04 L236.11,336.54 L237.08,338.02 L238.05,339.49 L239.02,340.94 L239.99,342.38 L240.96,343.80 L241.93,345.21 L242.90,346.60 L243.87,347.98 L244.84,349.34 L245.81,350.69 L246.78,352.03 L247.75,353.35 L248.72,354.66 L249.69,355.95 L250.66,357.24 L251.63,358.50 L252.60,359.76 L253.57,361.00 L254.54,362.23 L255.51,363.45 L256.48,364.65 L257.45,365.84 L258.42,367.02 L259.39,368.19 L260.36,369.35 L261.32,370.49 L262.29,371.63 L263.26,372.75 L264.23,373.86 L265.20,374.95 L266.17,376.04 L267.14,377.12 L268.11,378.18 L269.08,379.24 L270.05,380.28 L271.02,381.32 L271.99,382.34 L272.96,383.35 L273.93,384.36 L274.90,385.35 L275.87,386.33 L276.84,387.30 L277.81,388.27 L278.78,389.22 L279.75,390.17 L280.72,391.10 L281.69,392.03 L282.66,392.95 L283.63,393.85 L284.60,394.75 L285.57,395.64 L286.54,396.53 L287.51,397.40 L288.48,398.26 L289.45,399.12 L290.42,399.97 L291.39,400.81 L292.36,401.64 L293.33,402.46 L294.30,403.28 L295.27,404.09 L296.24,404.89 L297.21,405.68 L298.18,406.47 L299.15,407.25 L300.12,408.02 L301.09,408.78 L302.06,409.54 L303.03,410.29 L304.00,411.03 L304.97,411.76 L305.94,412.49 L306.91,413.21 L307.88,413.93 L308.85,414.64 L309.82,415.34 L310.79,416.03 L311.76,416.72 L312.73,417.40 L313.70,418.08 L314.67,418.75 L315.64,419.41 L316.61,420.07 L317.58,420.72 L318.55,421.37 L319.52,422.01 L320.49,422.65 L321.46,423.27 L322.43,423.90 L323.40,424.52 L324.37,425.13 L325.34,425.73 L326.31,426.34 L327.28,426.93 L328.25,427.52 L329.22,428.11 L330.19,428.69 L331.16,429.26 L332.13,429.83 L333.10,430.40 L334.07,430.96 L335.04,431.52 L336.01,432.07 L336.98,432.61 L337.95,433.15 L340.98,434.81 L344.00,436.43 L347.03,438.00 L350.05,439.53 L353.08,441.03 L356.11,442.48 L359.13,443.90 L362.16,445.28 L365.18,446.62 L368.21,447.94 L371.23,449.22 L374.26,450.47 L377.29,451.69 L380.31,452.88 L383.34,454.04 L386.36,455.17 L389.39,456.28 L392.42,457.36 L395.44,458.41 L398.47,459.45 L401.49,460.45 L404.52,461.44 L407.55,462.40 L410.57,463.34 L413.60,464.26 L416.62,465.16 L419.65,466.04 L422.68,466.90 L425.70,467.74 L428.73,468.56 L431.75,469.36 L434.78,470.15 L437.80,470.92 L440.83,471.68 L443.86,472.42 L446.88,473.14 L449.91,473.85 L452.93,474.55 L455.96,475.23 L458.99,475.89 L462.01,476.54 L465.04,477.18 L468.06,477.81 L471.09,478.43 L474.12,479.03 L477.14,479.62 L480.17,480.20 L483.19,480.77 L486.22,481.33 L489.24,481.87 L492.27,482.41 L495.30,482.94 L498.32,483.45 L501.35,483.96 L504.37,484.46 L507.40,484.95 L510.43,485.42 L513.45,485.90 L516.48,486.36 L519.50,486.81 L522.53,487.26 L525.56,487.70 L528.58,488.13 L531.61,488.55 L534.63,488.96 L537.66,489.37 L540.69,489.77 L543.71,490.17 L546.74,490.56 L549.76,490.94 L552.79,491.31 L555.81,491.68 L558.84,492.04 L561.87,492.40 L564.89,492.75 L567.92,493.09 L570.94,493.43 L573.97,493.76 L577.00,494.09 L580.02,494.41 L583.05,494.73 L586.07,495.04 L589.10,495.35 L592.13,495.65 L595.15,495.95 L598.18,496.25 L601.20,496.53 L604.23,496.82 L607.26,497.10 L610.28,497.37 L613.31,497.65 L616.33,497.91 L619.36,498.18 L622.38,498.44 L625.41,498.69 L628.44,498.94 L631.46,499.19 L634.49,499.43 L637.51,499.68 L640.54,499.91 L643.57,500.15 L646.59,500.38 L649.62,500.60 L652.64,500.83 L655.67,501.05 L658.70,501.27 L661.72,501.48 L664.75,501.69 L667.77,501.90 L670.80,502.11 L673.82,502.31 L676.85,502.51 L679.88,502.71 L682.90,502.90 L685.93,503.09 L688.95,503.28 L691.98,503.47 L695.01,503.65 L698.03,503.83 L701.06,504.01 L704.08,504.19 L707.11,504.37 L710.14,504.54 L713.16,504.71 L716.19,504.88 L719.21,505.04 L722.24,505.21 L725.27,505.37 L728.29,505.53 L731.32,505.68 L734.34,505.84 L737.37,505.99 L740.39,506.14 L743.42,506.29 L746.45,506.44 L749.47,506.59 L752.50,506.73 L755.52,506.87 L758.55,507.01" stroke="#00ffff" stroke-width="3.2"/>
</g>
<g stroke="#7f7f7f" stroke-width="1.05" fill="none">
<path d="M57.7,90.40999999999997 V524.0 H759.05"/>
<path d="M57.7,524.00 h8.2"/>
<path d="M57.7,511.63 h4.8"/>
<path d="M57.7,499.25 h4.8"/>
<path d="M57.7,486.88 h4.8"/>
<path d="M57.7,474.50 h4.8"/>
<path d="M57.7,462.13 h8.2"/>
<path d="M57.7,449.76 h4.8"/>
<path d="M57.7,437.38 h4.8"/>
<path d="M57.7,425.01 h4.8"/>
<path d="M57.7,412.63 h4.8"/>
<path d="M57.7,400.26 h8.2"/>
<path d="M57.7,387.89 h4.8"/>
<path d="M57.7,375.51 h4.8"/>
<path d="M57.7,363.14 h4.8"/>
<path d="M57.7,350.76 h4.8"/>
<path d="M57.7,338.39 h8.2"/>
<path d="M57.7,326.02 h4.8"/>
<path d="M57.7,313.64 h4.8"/>
<path d="M57.7,301.27 h4.8"/>
<path d="M57.7,288.89 h4.8"/>
<path d="M57.7,276.52 h8.2"/>
<path d="M57.7,264.15 h4.8"/>
<path d="M57.7,251.77 h4.8"/>
<path d="M57.7,239.40 h4.8"/>
<path d="M57.7,227.02 h4.8"/>
<path d="M57.7,214.65 h8.2"/>
<path d="M57.7,202.28 h4.8"/>
<path d="M57.7,189.90 h4.8"/>
<path d="M57.7,177.53 h4.8"/>
<path d="M57.7,165.15 h4.8"/>
<path d="M57.7,152.78 h8.2"/>
<path d="M57.7,140.41 h4.8"/>
<path d="M57.7,128.03 h4.8"/>
<path d="M57.7,115.66 h4.8"/>
<path d="M57.7,103.28 h4.8"/>
<path d="M57.7,90.91 h8.2"/>
<path d="M57.55,524.0 v-8.2"/>
<path d="M92.60,524.0 v-4.8"/>
<path d="M127.65,524.0 v-4.8"/>
<path d="M162.70,524.0 v-4.8"/>
<path d="M197.75,524.0 v-4.8"/>
<path d="M232.80,524.0 v-8.2"/>
<path d="M267.85,524.0 v-4.8"/>
<path d="M302.90,524.0 v-4.8"/>
<path d="M337.95,524.0 v-4.8"/>
<path d="M373.00,524.0 v-4.8"/>
<path d="M408.05,524.0 v-8.2"/>
<path d="M443.10,524.0 v-4.8"/>
<path d="M478.15,524.0 v-4.8"/>
<path d="M513.20,524.0 v-4.8"/>
<path d="M548.25,524.0 v-4.8"/>
<path d="M583.30,524.0 v-8.2"/>
<path d="M618.35,524.0 v-4.8"/>
<path d="M653.40,524.0 v-4.8"/>
<path d="M688.45,524.0 v-4.8"/>
<path d="M723.50,524.0 v-4.8"/>
<path d="M758.55,524.0 v-8.2"/>
</g>
<g font-family="Liberation Sans, sans-serif" font-size="25.8" fill="#000">
<text x="51" y="533.20" text-anchor="end">0.00</text>
<text x="51" y="471.33" text-anchor="end">0.05</text>
<text x="51" y="409.46" text-anchor="end">0.10</text>
<text x="51" y="347.59" text-anchor="end">0.15</text>
<text x="51" y="285.72" text-anchor="end">0.20</text>
<text x="51" y="223.85" text-anchor="end">0.25</text>
<text x="51" y="161.98" text-anchor="end">0.30</text>
<text x="51" y="100.11" text-anchor="end">0.35</text>
<text x="57.55" y="553.7" text-anchor="middle">0</text>
<text x="232.80" y="553.7" text-anchor="middle">5</text>
<text x="408.05" y="553.7" text-anchor="middle">10</text>
<text x="583.30" y="553.7" text-anchor="middle">15</text>
<text x="758.55" y="553.7" text-anchor="middle">20</text>
<text x="776.8" y="532.6">r</text>
<text x="24.6" y="71.8" font-style="italic" font-size="25.5">V</text><text x="41.4" y="76.8" font-size="20">eff</text><text x="64.6" y="71.8" font-size="27">(r)</text>
</g>
<g font-family="Liberation Serif, serif" fill="#000"><text x="366.1" y="39.6" font-size="43.3" font-style="italic">l</text><text x="390.8" y="41.8" font-size="44.5">=</text><text x="427" y="39.6" font-size="46">2</text></g>
<g fill="none" stroke-width="1.25" clip-path="url(#ci)">
<path d="M289.70,304.77 L291.92,302.77 L294.13,300.81 L296.35,298.89 L298.57,297.02 L300.78,295.18 L303.00,293.39 L305.22,291.63 L307.43,289.92 L309.65,288.24 L311.87,286.60 L314.08,284.99 L316.30,283.42 L318.52,281.89 L320.73,280.38 L322.95,278.92 L325.17,277.48 L327.38,276.08 L329.60,274.71 L331.82,273.37 L334.03,272.06 L336.25,270.78 L338.47,269.52 L340.68,268.30 L342.90,267.11 L345.12,265.94 L347.33,264.80 L349.55,263.69 L351.77,262.60 L353.98,261.54 L356.20,260.50 L358.42,259.49 L360.63,258.50 L362.85,257.53 L365.07,256.59 L367.28,255.67 L369.50,254.78 L371.72,253.90 L373.93,253.05 L376.15,252.22 L378.37,251.41 L380.58,250.61 L382.80,249.84 L385.02,249.09 L387.23,248.36 L389.45,247.65 L391.67,246.95 L393.88,246.27 L396.10,245.62 L398.32,244.97 L400.53,244.35 L402.75,243.74 L404.97,243.15 L407.18,242.58 L409.40,242.02 L411.62,241.47 L413.83,240.95 L416.05,240.43 L418.27,239.93 L420.48,239.45 L422.70,238.98 L424.92,238.53 L427.13,238.08 L429.35,237.66 L431.57,237.24 L433.78,236.84 L436.00,236.45 L438.22,236.07 L440.43,235.71 L442.65,235.36 L444.87,235.01 L447.08,234.69 L449.30,234.37 L451.52,234.06 L453.73,233.77 L455.95,233.48 L458.17,233.21 L460.38,232.94 L462.60,232.69 L464.82,232.44 L467.03,232.21 L469.25,231.99 L471.47,231.77 L473.68,231.57 L475.90,231.37 L478.12,231.18 L480.33,231.00 L482.55,230.83 L484.77,230.67 L486.98,230.52 L489.20,230.37 L491.42,230.24 L493.64,230.11 L495.85,229.98 L498.07,229.87 L500.29,229.76 L502.50,229.66 L504.72,229.57 L506.94,229.49 L509.15,229.41 L511.37,229.34 L513.59,229.27 L515.80,229.21 L518.02,229.16 L520.24,229.12 L522.45,229.08 L524.67,229.04 L526.89,229.02 L529.10,228.99 L531.32,228.98 L533.54,228.97 L535.75,228.96 L537.97,228.96 L540.19,228.97 L542.40,228.98 L544.62,229.00 L546.84,229.02 L549.05,229.04 L551.27,229.07 L553.49,229.11" stroke="#ff0000"/>
<path d="M289.70,279.75 L291.92,278.17 L294.13,276.63 L296.35,275.12 L298.57,273.64 L300.78,272.20 L303.00,270.79 L305.22,269.41 L307.43,268.06 L309.65,266.74 L311.87,265.46 L314.08,264.20 L316.30,262.97 L318.52,261.77 L320.73,260.60 L322.95,259.45 L325.17,258.33 L327.38,257.24 L329.60,256.17 L331.82,255.13 L334.03,254.12 L336.25,253.12 L338.47,252.15 L340.68,251.21 L342.90,250.29 L345.12,249.39 L347.33,248.51 L349.55,247.65 L351.77,246.82 L353.98,246.00 L356.20,245.21 L358.42,244.44 L360.63,243.69 L362.85,242.95 L365.07,242.24 L367.28,241.54 L369.50,240.86 L371.72,240.20 L373.93,239.56 L376.15,238.94 L378.37,238.33 L380.58,237.74 L382.80,237.16 L385.02,236.60 L387.23,236.06 L389.45,235.53 L391.67,235.02 L393.88,234.52 L396.10,234.04 L398.32,233.57 L400.53,233.12 L402.75,232.68 L404.97,232.25 L407.18,231.84 L409.40,231.44 L411.62,231.05 L413.83,230.68 L416.05,230.32 L418.27,229.97 L420.48,229.63 L422.70,229.30 L424.92,228.99 L427.13,228.69 L429.35,228.39 L431.57,228.11 L433.78,227.84 L436.00,227.58 L438.22,227.33 L440.43,227.09 L442.65,226.86 L444.87,226.65 L447.08,226.43 L449.30,226.23 L451.52,226.04 L453.73,225.86 L455.95,225.69 L458.17,225.52 L460.38,225.37 L462.60,225.22 L464.82,225.08 L467.03,224.95 L469.25,224.82 L471.47,224.71 L473.68,224.60 L475.90,224.50 L478.12,224.41 L480.33,224.32 L482.55,224.24 L484.77,224.17 L486.98,224.11 L489.20,224.05 L491.42,224.00 L493.64,223.95 L495.85,223.92 L498.07,223.88 L500.29,223.86 L502.50,223.84 L504.72,223.82 L506.94,223.81 L509.15,223.81 L511.37,223.82 L513.59,223.82 L515.80,223.84 L518.02,223.86 L520.24,223.88 L522.45,223.91 L524.67,223.95 L526.89,223.98 L529.10,224.03 L531.32,224.08 L533.54,224.13 L535.75,224.19 L537.97,224.25 L540.19,224.32 L542.40,224.39 L544.62,224.46 L546.84,224.54 L549.05,224.63 L551.27,224.72 L553.49,224.81" stroke="#00ff00"/>
<path d="M289.70,250.11 L291.92,248.99 L294.13,247.90 L296.35,246.83 L298.57,245.79 L300.78,244.77 L303.00,243.78 L305.22,242.82 L307.43,241.87 L309.65,240.96 L311.87,240.06 L314.08,239.19 L316.30,238.34 L318.52,237.51 L320.73,236.70 L322.95,235.91 L325.17,235.15 L327.38,234.40 L329.60,233.67 L331.82,232.97 L334.03,232.28 L336.25,231.61 L338.47,230.96 L340.68,230.33 L342.90,229.71 L345.12,229.11 L347.33,228.53 L349.55,227.97 L351.77,227.42 L353.98,226.89 L356.20,226.37 L358.42,225.87 L360.63,225.39 L362.85,224.92 L365.07,224.46 L367.28,224.02 L369.50,223.59 L371.72,223.18 L373.93,222.78 L376.15,222.39 L378.37,222.02 L380.58,221.66 L382.80,221.31 L385.02,220.98 L387.23,220.66 L389.45,220.34 L391.67,220.04 L393.88,219.76 L396.10,219.48 L398.32,219.21 L400.53,218.96 L402.75,218.72 L404.97,218.48 L407.18,218.26 L409.40,218.05 L411.62,217.84 L413.83,217.65 L416.05,217.47 L418.27,217.29 L420.48,217.13 L422.70,216.97 L424.92,216.82 L427.13,216.68 L429.35,216.55 L431.57,216.43 L433.78,216.32 L436.00,216.21 L438.22,216.11 L440.43,216.02 L442.65,215.94 L444.87,215.87 L447.08,215.80 L449.30,215.74 L451.52,215.69 L453.73,215.64 L455.95,215.60 L458.17,215.57 L460.38,215.54 L462.60,215.52 L464.82,215.51 L467.03,215.50 L469.25,215.50 L471.47,215.51 L473.68,215.52 L475.90,215.54 L478.12,215.56 L480.33,215.59 L482.55,215.62 L484.77,215.66 L486.98,215.70 L489.20,215.75 L491.42,215.80 L493.64,215.86 L495.85,215.93 L498.07,216.00 L500.29,216.07 L502.50,216.15 L504.72,216.23 L506.94,216.32 L509.15,216.41 L511.37,216.50 L513.59,216.60 L515.80,216.71 L518.02,216.81 L520.24,216.92 L522.45,217.04 L524.67,217.16 L526.89,217.28 L529.10,217.41 L531.32,217.54 L533.54,217.67 L535.75,217.81 L537.97,217.95 L540.19,218.09 L542.40,218.24 L544.62,218.39 L546.84,218.54 L549.05,218.69 L551.27,218.85 L553.49,219.01" stroke="#0000ff"/>
<path d="M289.70,217.50 L291.92,216.91 L294.13,216.34 L296.35,215.78 L298.57,215.23 L300.78,214.71 L303.00,214.19 L305.22,213.70 L307.43,213.21 L309.65,212.75 L311.87,212.29 L314.08,211.86 L316.30,211.43 L318.52,211.02 L320.73,210.62 L322.95,210.24 L325.17,209.87 L327.38,209.51 L329.60,209.16 L331.82,208.83 L334.03,208.51 L336.25,208.20 L338.47,207.90 L340.68,207.61 L342.90,207.34 L345.12,207.08 L347.33,206.82 L349.55,206.58 L351.77,206.35 L353.98,206.13 L356.20,205.92 L358.42,205.72 L360.63,205.53 L362.85,205.35 L365.07,205.17 L367.28,205.01 L369.50,204.86 L371.72,204.72 L373.93,204.58 L376.15,204.46 L378.37,204.34 L380.58,204.23 L382.80,204.13 L385.02,204.04 L387.23,203.95 L389.45,203.87 L391.67,203.81 L393.88,203.74 L396.10,203.69 L398.32,203.64 L400.53,203.61 L402.75,203.57 L404.97,203.55 L407.18,203.53 L409.40,203.52 L411.62,203.51 L413.83,203.51 L416.05,203.52 L418.27,203.54 L420.48,203.56 L422.70,203.58 L424.92,203.61 L427.13,203.65 L429.35,203.70 L431.57,203.74 L433.78,203.80 L436.00,203.86 L438.22,203.92 L440.43,203.99 L442.65,204.07 L444.87,204.15 L447.08,204.24 L449.30,204.33 L451.52,204.42 L453.73,204.52 L455.95,204.62 L458.17,204.73 L460.38,204.85 L462.60,204.96 L464.82,205.09 L467.03,205.21 L469.25,205.34 L471.47,205.47 L473.68,205.61 L475.90,205.75 L478.12,205.90 L480.33,206.05 L482.55,206.20 L484.77,206.36 L486.98,206.51 L489.20,206.68 L491.42,206.84 L493.64,207.01 L495.85,207.19 L498.07,207.36 L500.29,207.54 L502.50,207.72 L504.72,207.91 L506.94,208.10 L509.15,208.29 L511.37,208.48 L513.59,208.68 L515.80,208.87 L518.02,209.08 L520.24,209.28 L522.45,209.49 L524.67,209.69 L526.89,209.91 L529.10,210.12 L531.32,210.34 L533.54,210.55 L535.75,210.77 L537.97,211.00 L540.19,211.22 L542.40,211.45 L544.62,211.68 L546.84,211.91 L549.05,212.14 L551.27,212.37 L553.49,212.61" stroke="#ff00ff"/>
<path d="M289.70,199.08 L291.92,198.77 L294.13,198.48 L296.35,198.19 L298.57,197.92 L300.78,197.66 L303.00,197.40 L305.22,197.16 L307.43,196.93 L309.65,196.71 L311.87,196.50 L314.08,196.30 L316.30,196.11 L318.52,195.92 L320.73,195.75 L322.95,195.59 L325.17,195.44 L327.38,195.29 L329.60,195.16 L331.82,195.03 L334.03,194.91 L336.25,194.80 L338.47,194.70 L340.68,194.60 L342.90,194.52 L345.12,194.44 L347.33,194.37 L349.55,194.31 L351.77,194.25 L353.98,194.21 L356.20,194.17 L358.42,194.13 L360.63,194.11 L362.85,194.09 L365.07,194.08 L367.28,194.07 L369.50,194.08 L371.72,194.08 L373.93,194.10 L376.15,194.12 L378.37,194.15 L380.58,194.18 L382.80,194.22 L385.02,194.26 L387.23,194.31 L389.45,194.37 L391.67,194.43 L393.88,194.50 L396.10,194.57 L398.32,194.65 L400.53,194.73 L402.75,194.82 L404.97,194.91 L407.18,195.01 L409.40,195.12 L411.62,195.22 L413.83,195.34 L416.05,195.45 L418.27,195.57 L420.48,195.70 L422.70,195.83 L424.92,195.97 L427.13,196.10 L429.35,196.25 L431.57,196.40 L433.78,196.55 L436.00,196.70 L438.22,196.86 L440.43,197.02 L442.65,197.19 L444.87,197.36 L447.08,197.53 L449.30,197.71 L451.52,197.89 L453.73,198.07 L455.95,198.26 L458.17,198.45 L460.38,198.64 L462.60,198.84 L464.82,199.04 L467.03,199.24 L469.25,199.44 L471.47,199.65 L473.68,199.86 L475.90,200.08 L478.12,200.29 L480.33,200.51 L482.55,200.73 L484.77,200.96 L486.98,201.18 L489.20,201.41 L491.42,201.64 L493.64,201.88 L495.85,202.11 L498.07,202.35 L500.29,202.59 L502.50,202.83 L504.72,203.08 L506.94,203.32 L509.15,203.57 L511.37,203.82 L513.59,204.08 L515.80,204.33 L518.02,204.59 L520.24,204.84 L522.45,205.10 L524.67,205.36 L526.89,205.63 L529.10,205.89 L531.32,206.16 L533.54,206.43 L535.75,206.69 L537.97,206.96 L540.19,207.24 L542.40,207.51 L544.62,207.78 L546.84,208.06 L549.05,208.34 L551.27,208.62 L553.49,208.90" stroke="#00ffff"/>
</g>
<g stroke="#868686" stroke-width="0.95" fill="none">
<path d="M289.7,162.00000000000003 V324.0 H553.0"/>
<path d="M289.7,324.00 h4.5"/>
<path d="M289.7,317.54 h2.8"/>
<path d="M289.7,311.08 h2.8"/>
<path d="M289.7,304.62 h2.8"/>
<path d="M289.7,298.16 h2.8"/>
<path d="M289.7,291.70 h4.5"/>
<path d="M289.7,285.24 h2.8"/>
<path d="M289.7,278.78 h2.8"/>
<path d="M289.7,272.32 h2.8"/>
<path d="M289.7,265.86 h2.8"/>
<path d="M289.7,259.40 h4.5"/>
<path d="M289.7,252.94 h2.8"/>
<path d="M289.7,246.48 h2.8"/>
<path d="M289.7,240.02 h2.8"/>
<path d="M289.7,233.56 h2.8"/>
<path d="M289.7,227.10 h4.5"/>
<path d="M289.7,220.64 h2.8"/>
<path d="M289.7,214.18 h2.8"/>
<path d="M289.7,207.72 h2.8"/>
<path d="M289.7,201.26 h2.8"/>
<path d="M289.7,194.80 h4.5"/>
<path d="M289.7,188.34 h2.8"/>
<path d="M289.7,181.88 h2.8"/>
<path d="M289.7,175.42 h2.8"/>
<path d="M289.7,168.96 h2.8"/>
<path d="M289.7,162.50 h4.5"/>
<path d="M289.70,324.0 v-4.5"/>
<path d="M296.27,324.0 v-2.8"/>
<path d="M302.84,324.0 v-2.8"/>
<path d="M309.41,324.0 v-2.8"/>
<path d="M315.98,324.0 v-2.8"/>
<path d="M322.55,324.0 v-4.5"/>
<path d="M329.12,324.0 v-2.8"/>
<path d="M335.69,324.0 v-2.8"/>
<path d="M342.26,324.0 v-2.8"/>
<path d="M348.83,324.0 v-2.8"/>
<path d="M355.40,324.0 v-4.5"/>
<path d="M361.97,324.0 v-2.8"/>
<path d="M368.54,324.0 v-2.8"/>
<path d="M375.11,324.0 v-2.8"/>
<path d="M381.68,324.0 v-2.8"/>
<path d="M388.25,324.0 v-4.5"/>
<path d="M394.82,324.0 v-2.8"/>
<path d="M401.39,324.0 v-2.8"/>
<path d="M407.96,324.0 v-2.8"/>
<path d="M414.53,324.0 v-2.8"/>
<path d="M421.10,324.0 v-4.5"/>
<path d="M427.67,324.0 v-2.8"/>
<path d="M434.24,324.0 v-2.8"/>
<path d="M440.81,324.0 v-2.8"/>
<path d="M447.38,324.0 v-2.8"/>
<path d="M453.95,324.0 v-4.5"/>
<path d="M460.52,324.0 v-2.8"/>
<path d="M467.09,324.0 v-2.8"/>
<path d="M473.66,324.0 v-2.8"/>
<path d="M480.23,324.0 v-2.8"/>
<path d="M486.80,324.0 v-4.5"/>
<path d="M493.37,324.0 v-2.8"/>
<path d="M499.94,324.0 v-2.8"/>
<path d="M506.51,324.0 v-2.8"/>
<path d="M513.08,324.0 v-2.8"/>
<path d="M519.65,324.0 v-4.5"/>
<path d="M526.22,324.0 v-2.8"/>
<path d="M532.79,324.0 v-2.8"/>
<path d="M539.36,324.0 v-2.8"/>
<path d="M545.93,324.0 v-2.8"/>
<path d="M552.50,324.0 v-4.5"/>
</g>
<g font-family="Liberation Sans, sans-serif" font-size="17.1" fill="#000">
<text x="282.8" y="330.40" text-anchor="end">0.10</text>
<text x="282.8" y="298.10" text-anchor="end">0.15</text>
<text x="282.8" y="265.80" text-anchor="end">0.20</text>
<text x="282.8" y="233.50" text-anchor="end">0.25</text>
<text x="282.8" y="201.20" text-anchor="end">0.30</text>
<text x="282.8" y="168.90" text-anchor="end">0.35</text>
<text x="289.70" y="346.6" text-anchor="middle">2.2</text>
<text x="322.55" y="346.6" text-anchor="middle">2.3</text>
<text x="355.40" y="346.6" text-anchor="middle">2.4</text>
<text x="388.25" y="346.6" text-anchor="middle">2.5</text>
<text x="421.10" y="346.6" text-anchor="middle">2.6</text>
<text x="453.95" y="346.6" text-anchor="middle">2.7</text>
<text x="486.80" y="346.6" text-anchor="middle">2.8</text>
<text x="519.65" y="346.6" text-anchor="middle">2.9</text>
<text x="552.50" y="346.6" text-anchor="middle">3.0</text>
<text x="570.6" y="330.4">r</text>
<text x="265.4" y="141.2" font-style="italic" font-size="16.4">V</text><text x="276.2" y="146.6" font-size="18">eff</text><text x="297.8" y="141.2" font-size="18.2">(r)</text>
</g>
<circle cx="368.6" cy="194.1" r="2.25" fill="#000"/>
<circle cx="412.9" cy="203.4" r="2.25" fill="#000"/>
<circle cx="469.5" cy="215.1" r="2.25" fill="#000"/>
<circle cx="509.8" cy="223.5" r="2.25" fill="#000"/>
<circle cx="536.7" cy="229.1" r="2.25" fill="#000"/>
<path d="M590.9,221.70 H634.6" stroke="#ff0000" stroke-width="3" fill="none"/>
<g font-family="Liberation Sans, sans-serif" fill="#000"><text transform="translate(648.4,228.80) scale(1.11,1)" font-style="italic" font-size="26.2">α</text><text transform="translate(665.2,233.70) scale(0.95,1)" font-size="20.6">0</text><text x="677" y="229.80" font-size="26.2">=</text><text transform="translate(692.2,228.80) scale(0.955,1)" font-size="27.2">0</text></g>
<path d="M590.9,265.00 H634.6" stroke="#00ff00" stroke-width="3" fill="none"/>
<g font-family="Liberation Sans, sans-serif" fill="#000"><text transform="translate(648.4,272.10) scale(1.11,1)" font-style="italic" font-size="26.2">α</text><text transform="translate(665.2,277.00) scale(0.95,1)" font-size="20.6">0</text><text x="677" y="273.10" font-size="26.2">=</text><text transform="translate(692.2,272.10) scale(0.955,1)" font-size="27.2">0.15</text></g>
<path d="M590.9,308.30 H634.6" stroke="#0000ff" stroke-width="3" fill="none"/>
<g font-family="Liberation Sans, sans-serif" fill="#000"><text transform="translate(648.4,315.40) scale(1.11,1)" font-style="italic" font-size="26.2">α</text><text transform="translate(665.2,320.30) scale(0.95,1)" font-size="20.6">0</text><text x="677" y="316.40" font-size="26.2">=</text><text transform="translate(692.2,315.40) scale(0.955,1)" font-size="27.2">0.35</text></g>
<path d="M590.9,351.60 H634.6" stroke="#ff00ff" stroke-width="3" fill="none"/>
<g font-family="Liberation Sans, sans-serif" fill="#000"><text transform="translate(648.4,358.70) scale(1.11,1)" font-style="italic" font-size="26.2">α</text><text transform="translate(665.2,363.60) scale(0.95,1)" font-size="20.6">0</text><text x="677" y="359.70" font-size="26.2">=</text><text transform="translate(692.2,358.70) scale(0.955,1)" font-size="27.2">0.58</text></g>
<path d="M590.9,394.90 H634.6" stroke="#00ffff" stroke-width="3" fill="none"/>
<g font-family="Liberation Sans, sans-serif" fill="#000"><text transform="translate(648.4,402.00) scale(1.11,1)" font-style="italic" font-size="26.2">α</text><text transform="translate(665.2,406.90) scale(0.95,1)" font-size="20.6">0</text><text x="677" y="403.00" font-size="26.2">=</text><text transform="translate(692.2,402.00) scale(0.955,1)" font-size="27.2">0.72</text></g>
</svg>
</body></html>
